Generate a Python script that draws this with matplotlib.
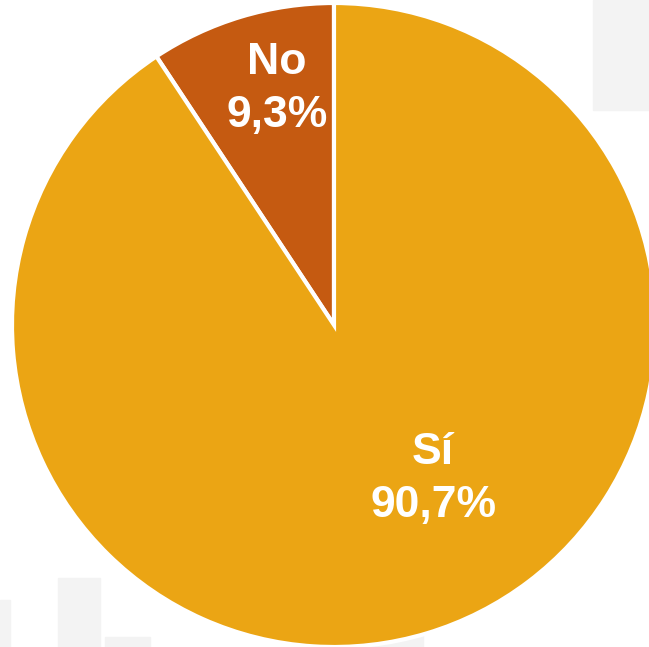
import matplotlib
matplotlib.use('Agg')
import matplotlib.pyplot as plt
from matplotlib.patches import Rectangle

labels = ['No', 'Sí']
values = [9.3, 90.7]
colors = ['#C55A11', '#EBA514']

plt.rcParams['font.family'] = ['Liberation Sans', 'DejaVu Sans']

W, H = 649, 647

fig = plt.figure(figsize=(6.49, 6.47), dpi=100)
ax = fig.add_axes([0, 0, 1, 1])

# faint background bars behind the pie (top-left pixel boxes)
for x, y, w, h in [(58, 578, 42, 80), (105, 637, 45, 20), (367, 590, 56, 60),
                   (593, 0, 60, 110), (0, 600, 10, 50)]:
    ax.add_patch(Rectangle((x, H - y - h), w, h, color='#F3F3F3', zorder=0))

wedges, _ = ax.pie(values, colors=colors, startangle=90, counterclock=True,
                   center=(334, H - 325), radius=322, frame=True,
                   wedgeprops=dict(edgecolor='white', linewidth=3))
for w in wedges:
    w.set_zorder(2)

# labels placed inside each slice
label_pos = [(277, 89), (433, 479)]
for (x, y), name, v in zip(label_pos, labels, values):
    txt = f'{name}\n{v:.1f}%'.replace('.', ',')
    ax.text(x, H - y, txt, ha='center', va='center', color='white',
            fontsize=32, fontweight='bold', linespacing=1.4, zorder=3)

ax.set_xlim(0, W)
ax.set_ylim(0, H)
ax.set_aspect('equal')
ax.axis('off')
fig.savefig('out.png', dpi=100)
